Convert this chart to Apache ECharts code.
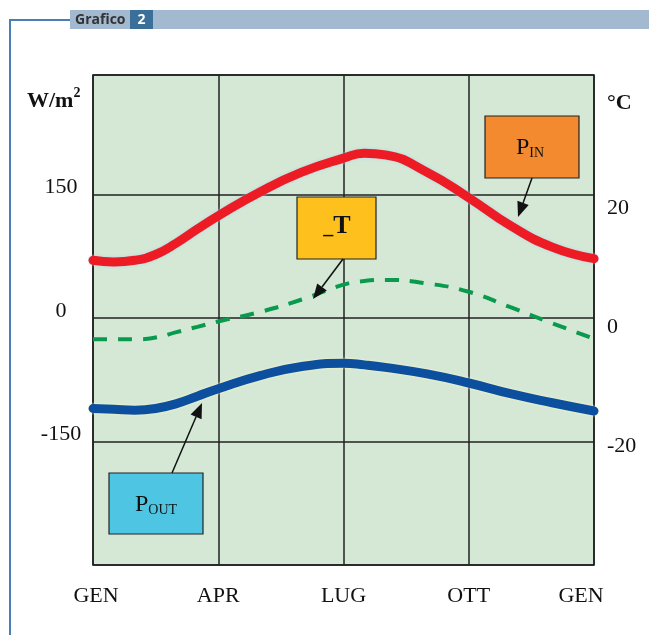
<!DOCTYPE html>
<html><head><meta charset="utf-8">
<script src="https://cdn.jsdelivr.net/npm/echarts/dist/echarts.min.js"></script>
<style>html,body{margin:0;padding:0;background:#fff}#c{width:649px;height:635px}</style>
</head><body><div id="c"></div>
<script>
// ---- data (month position: 0 = GEN ... 12 = GEN) ----
const monthPos = [0, 0.5, 1, 1.5, 2, 2.5, 3, 4, 5, 6, 6.5, 7, 8, 9, 10, 11, 12];
const pIn     = [70, 68, 70, 77, 91, 108, 124, 153, 177, 194, 200, 198, 177, 146, 112, 86, 72];            // W/m2
const pOut    = [-110, -111, -112, -110, -104, -95, -86, -70, -59, -55, -57, -60, -68, -79, -92, -103, -113]; // W/m2
const deltaT  = [-2.0, -2.0, -2.0, -1.7, -0.8, 0.1, 1.0, 2.6, 4.7, 7.2, 7.8, 8.0, 7.4, 6.0, 3.4, 0.7, -1.9];   // °C
const monthTicks  = [0, 3, 6, 9, 12];
const monthLabels = ['GEN', 'APR', 'LUG', 'OTT', 'GEN'];
const leftTicks  = [-150, 0, 150];
const rightTicks = [-20, 0, 20];

const SERIF = 'Liberation Serif, Times New Roman, serif';
const chart = echarts.init(document.getElementById('c'));

function arrow(x1, y1, x2, y2) {
  const dx = x2 - x1, dy = y2 - y1, L = Math.hypot(dx, dy), ux = dx / L, uy = dy / L;
  const hl = 15, hw = 6;
  const bx = x2 - ux * hl, by = y2 - uy * hl, px = -uy, py = ux;
  return [
    {type: 'line', z: 101, shape: {x1: x1, y1: y1, x2: bx, y2: by}, style: {stroke: '#111', lineWidth: 1.5}},
    {type: 'polygon', z: 101, shape: {points: [[x2, y2], [bx + px * hw, by + py * hw], [bx - px * hw, by - py * hw]]}, style: {fill: '#111'}}
  ];
}
function box(x, y, w, h, fill) {
  return {type: 'rect', z: 100, shape: {x: x, y: y, width: w, height: h}, style: {fill: fill, stroke: '#222', lineWidth: 1.2}};
}

const graphics = [
  // header
  {type: 'rect', shape: {x: 70, y: 10, width: 579, height: 19}, style: {fill: '#a3b9cf'}},
  {type: 'text', x: 75, y: 20, style: {text: 'Grafico', fill: '#333', font: 'bold 14px "Open Sans", sans-serif', verticalAlign: 'middle', align: 'left'}},
  {type: 'rect', shape: {x: 130, y: 10, width: 23, height: 19}, style: {fill: '#3a6f99'}},
  {type: 'text', x: 141.5, y: 20, style: {text: '2', fill: '#fff', font: 'bold 14px "Open Sans", sans-serif', verticalAlign: 'middle', align: 'center'}},
  {type: 'polyline', shape: {points: [[70, 20], [10, 20], [10, 640]]}, style: {stroke: '#4a7fb5', lineWidth: 2, fill: null}},
  // axis units
  {type: 'text', x: 27, y: 101, style: {
    text: '{a|W/m}{s|2}', verticalAlign: 'middle', align: 'left',
    rich: {
      a: {fontSize: 22, fontWeight: 'bold', fontFamily: SERIF, fill: '#111'},
      s: {fontSize: 14, fontWeight: 'bold', fontFamily: SERIF, fill: '#111', padding: [0, 0, 16, 0]}
    }}},
  {type: 'text', x: 607, y: 103, style: {text: '°C', fill: '#111', font: 'bold 22px ' + SERIF, verticalAlign: 'middle', align: 'left'}},
  // annotation boxes
  box(485, 116, 94, 62, '#f38a2f'),
  {type: 'text', z: 102, x: 530, y: 148, style: {
    text: '{p|P}{s|IN}', align: 'center', verticalAlign: 'middle',
    rich: {p: {fontSize: 24, fontFamily: SERIF, fill: '#111'}, s: {fontSize: 14, fontFamily: SERIF, fill: '#111', padding: [10, 0, 0, 0]}}}},
  box(297, 197, 79, 62, '#fec01d'),
  {type: 'text', z: 102, x: 337, y: 226, style: {
    text: '{u|_}{t|T}', align: 'center', verticalAlign: 'middle',
    rich: {u: {fontSize: 20, fontWeight: 'bold', fontFamily: SERIF, fill: '#111', padding: [4, 0, 0, 0]}, t: {fontSize: 26, fontWeight: 'bold', fontFamily: SERIF, fill: '#111'}}}},
  box(109, 473, 94, 61, '#4ec6e3'),
  {type: 'text', z: 102, x: 156, y: 505, style: {
    text: '{p|P}{s|OUT}', align: 'center', verticalAlign: 'middle',
    rich: {p: {fontSize: 24, fontFamily: SERIF, fill: '#111'}, s: {fontSize: 14, fontFamily: SERIF, fill: '#111', padding: [10, 0, 0, 0]}}}}
].concat(arrow(532, 178, 518, 217), arrow(343, 259, 313, 299), arrow(172, 473, 202, 403));

const option = {
  animation: false,
  backgroundColor: '#fff',
  grid: {left: 93, top: 75, right: 55, bottom: 70, show: true, backgroundColor: '#d4e8d5',
         borderColor: '#111', borderWidth: 1.5, containLabel: false, outerBoundsMode: 'none'},
  xAxis: {
    type: 'value', min: 0, max: 12, interval: 3,
    axisLine: {show: false}, axisTick: {show: false},
    splitLine: {show: true, lineStyle: {color: '#222', width: 1.5}},
    axisLabel: {
      margin: 20,
      formatter: function (v) {
        const i = monthTicks.indexOf(v);
        if (i < 0) return '';
        if (v === 12) return '{r|' + monthLabels[i] + '}';
        if (v === 0) return '{l|' + monthLabels[i] + '}';
        return '{n|' + monthLabels[i] + '}';
      },
      rich: {
        n: {fontSize: 22, fontFamily: SERIF, color: '#111'},
        l: {fontSize: 22, fontFamily: SERIF, color: '#111', padding: [0, 0, 0, 6]},
        r: {fontSize: 22, fontFamily: SERIF, color: '#111', padding: [0, 26, 0, 0]}
      }
    }
  },
  yAxis: [
    {
      type: 'value', position: 'left', min: -300, max: 295, interval: 150,
      axisLine: {show: false}, axisTick: {show: false},
      splitLine: {show: true, lineStyle: {color: '#222', width: 1.5}},
      axisLabel: {
        margin: 32, align: 'center',
        formatter: function (v) { return leftTicks.indexOf(v) >= 0 ? '{n|' + v + '}' : ''; },
        rich: {n: {fontSize: 22, fontFamily: SERIF, color: '#111', padding: [0, 0, 14, 0]}}
      }
    },
    {
      type: 'value', position: 'right', min: -40, max: 42.5, interval: 20,
      axisLine: {show: false}, axisTick: {show: false}, splitLine: {show: false},
      axisLabel: {
        margin: 13, align: 'left',
        formatter: function (v) { return rightTicks.indexOf(v) >= 0 ? '{n|' + v + '}' : ''; },
        rich: {n: {fontSize: 22, fontFamily: SERIF, color: '#111'}}
      }
    }
  ],
  series: [
    {name: 'P_IN', type: 'line', yAxisIndex: 0, smooth: true, symbol: 'none',
     data: monthPos.map(function (m, i) { return [m, pIn[i]]; }),
     lineStyle: {color: '#ed1c24', width: 9, cap: 'round', shadowColor: 'rgba(170,210,240,0.9)', shadowBlur: 3}},
    {name: 'P_OUT', type: 'line', yAxisIndex: 0, smooth: true, symbol: 'none',
     data: monthPos.map(function (m, i) { return [m, pOut[i]]; }),
     lineStyle: {color: '#0d4f9f', width: 9, cap: 'round', shadowColor: 'rgba(255,250,200,0.9)', shadowBlur: 3}},
    {name: 'dT', type: 'line', yAxisIndex: 1, smooth: true, symbol: 'none',
     data: monthPos.map(function (m, i) { return [m, deltaT[i]]; }),
     lineStyle: {color: '#0a9a4e', width: 4, type: [14, 11]}}
  ],
  graphic: graphics
};
chart.setOption(option);
</script>
</body></html>
